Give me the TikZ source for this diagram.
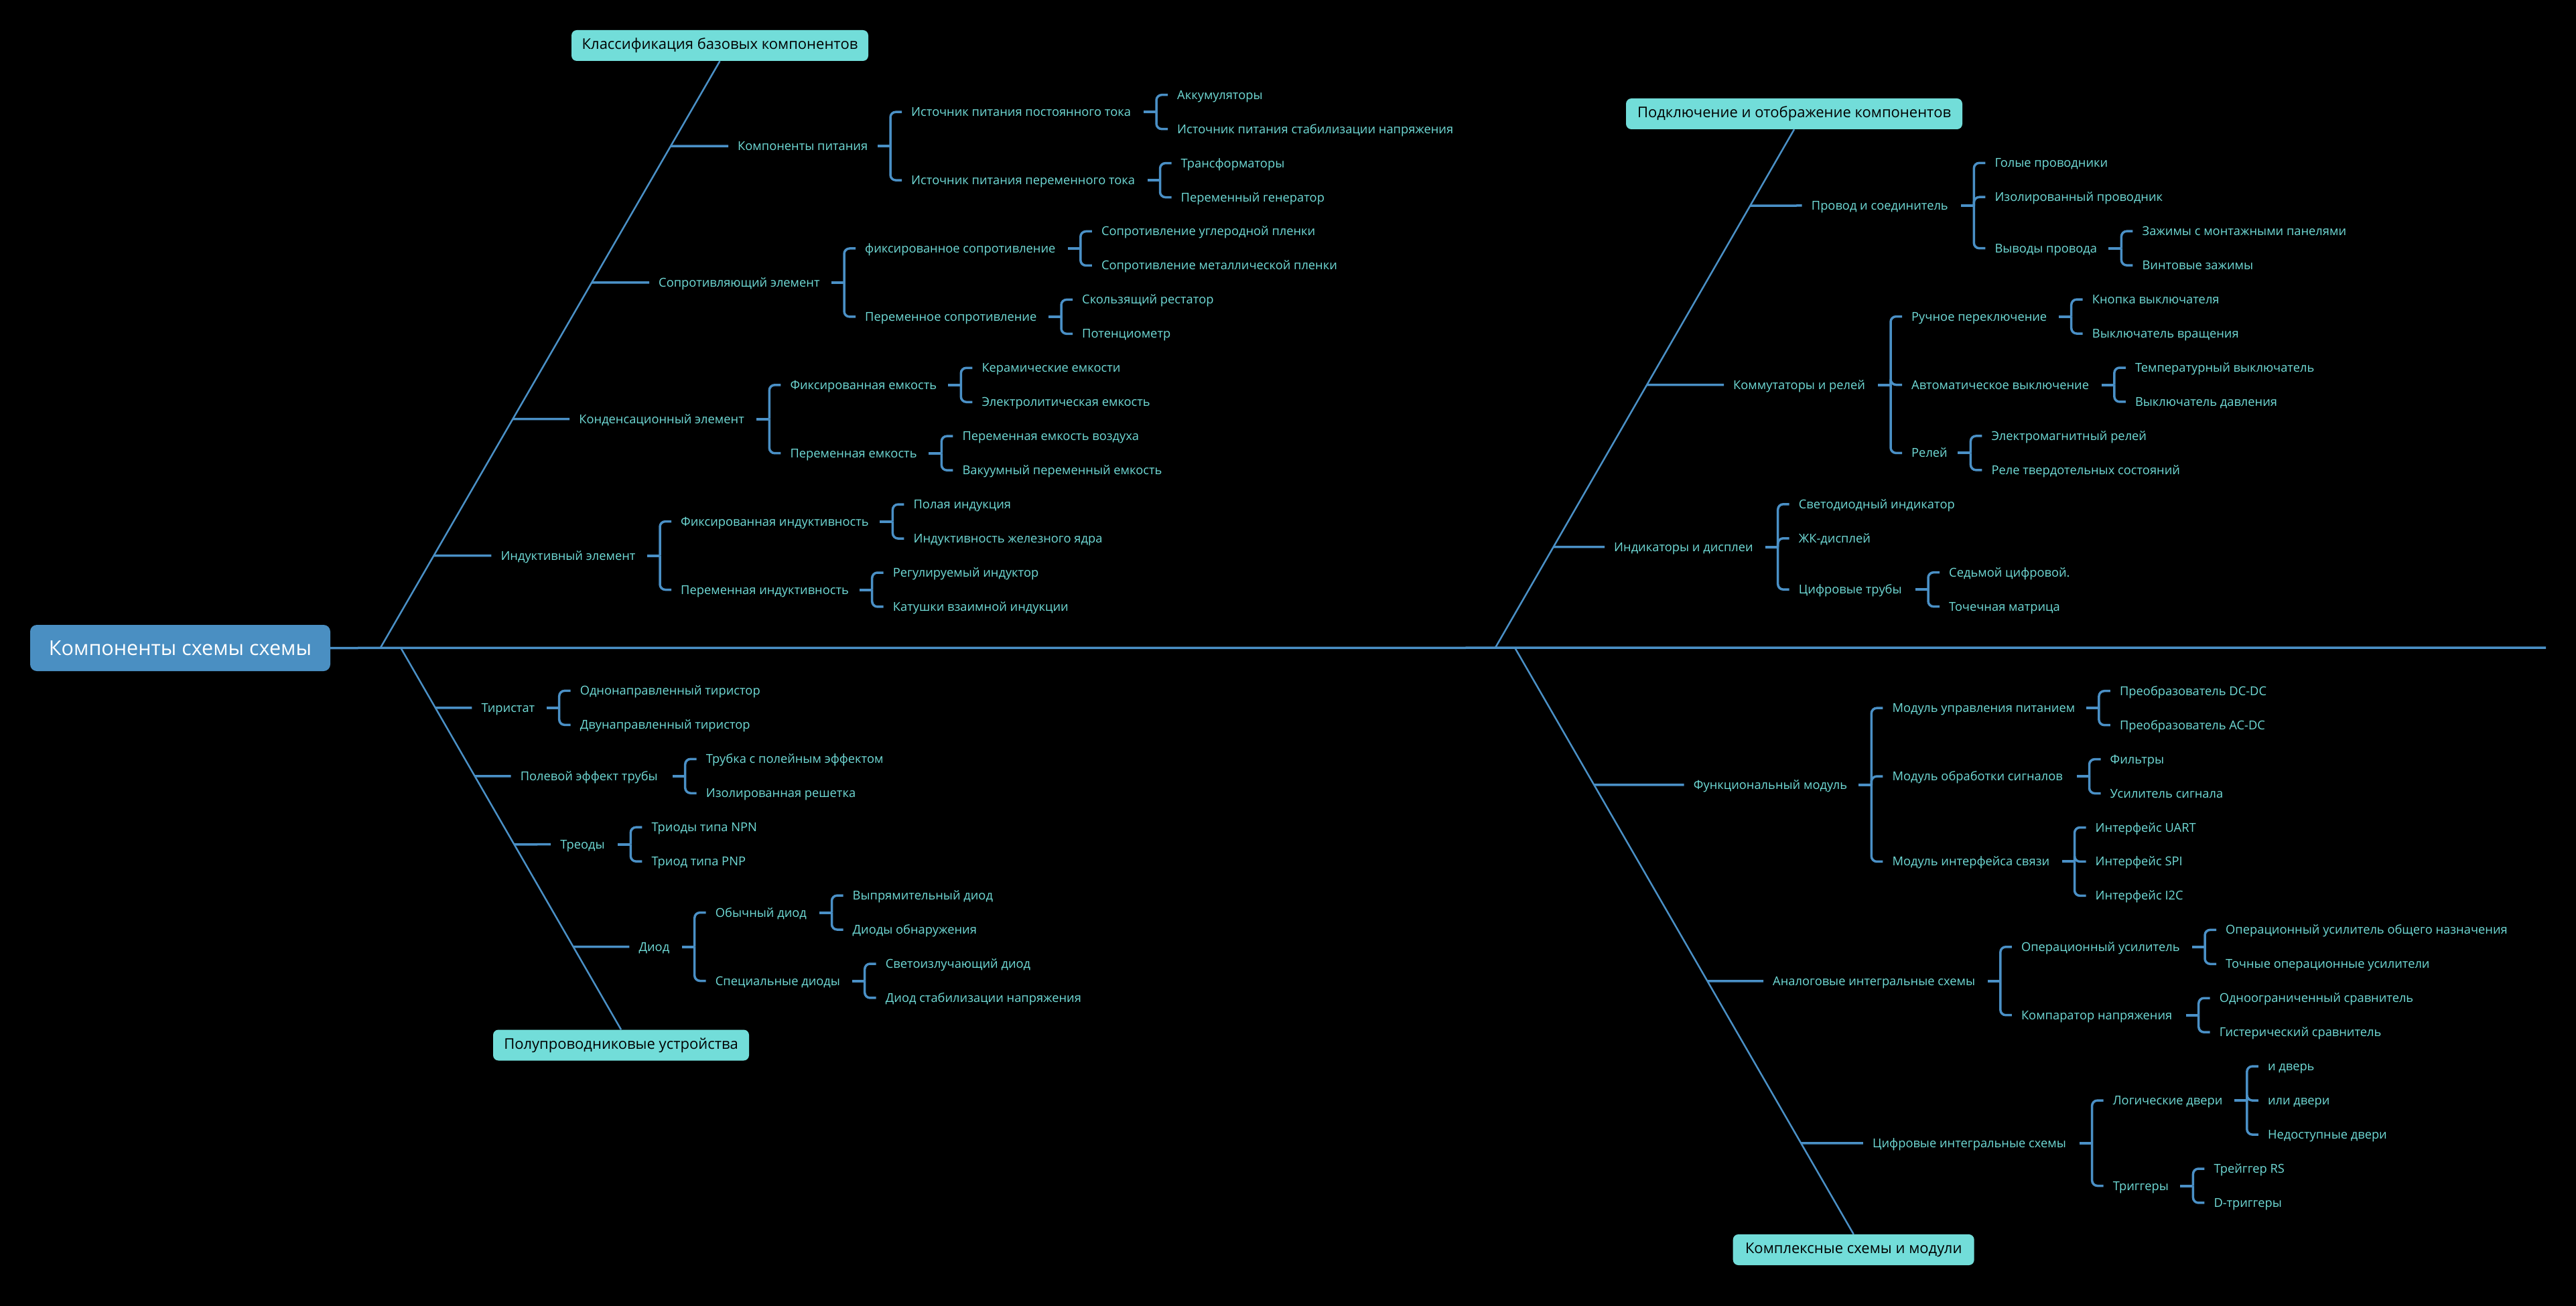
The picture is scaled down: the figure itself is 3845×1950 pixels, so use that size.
\documentclass[tikz,border=0pt]{standalone}
\usepackage{fontspec}
\setmainfont{Open Sans}
\usetikzlibrary{calc}
\definecolor{linec}{RGB}{74,144,198}
\definecolor{lblc}{RGB}{112,220,216}
\definecolor{boxc}{RGB}{114,221,217}
\definecolor{mainc}{RGB}{74,143,194}
\tikzset{
  lbl/.style={anchor=west, inner sep=0pt, text=lblc, font=\fontsize{18.3}{20}\selectfont, text height=13pt, text depth=0pt},
  catbox/.style={fill=boxc, rounded corners=8pt, text=black, font=\fontsize{22}{24}\selectfont, minimum height=46pt, inner sep=0pt},
  mainbox/.style={fill=mainc, rounded corners=10pt, text=white, font=\fontsize{30.5}{34}\selectfont, minimum height=69pt, minimum width=448pt, inner sep=0pt},
  ln/.style={draw=linec, line width=3.5pt},
  stubln/.style={draw=linec, line width=4pt},
  bone/.style={draw=linec, line width=2.5pt},
  spine/.style={draw=linec, line width=3.5pt},
  brk/.style={draw=linec, line width=3.5pt, rounded corners=8pt}
}
\newcommand\fork[3]{%
  \coordinate (#1-j) at ($(#1.west -| #2.west)+(-31,0)$);
  \draw[stubln] ($(#1-j)+(-19,0)$) -- (#1-j);
  \foreach \c in {#3} {\draw[brk] (#1-j) |- ($(\c.west)+(-14,0)$);}
}
\newcommand\stub[3]{% bone start, bone end, node
  \draw[ln] (intersection of #1--#2 and #3.west--#3.east) -- ($(#3.west)+(-14,0)$);
}
\begin{document}
\begin{tikzpicture}[x=1pt,y=-1pt]
\fill[black] (0,0) rectangle (3845,1950);
\useasboundingbox (0,0) rectangle (3845,1950);

% main
\node[mainbox] (main) at (269,967.5) {Компоненты схемы схемы};
\coordinate (spineend) at (3800,967);
\draw[spine] (main.east) -- (spineend);

% category boxes
\node[catbox, minimum width=443pt] (cat1) at (1074.5,68) {Классификация базовых компонентов};
\node[catbox, minimum width=502pt] (cat2) at (2678,170) {Подключение и отображение компонентов};
\node[catbox, minimum width=382pt] (cat3) at (927,1560.5) {Полупроводниковые устройства};
\node[catbox, minimum width=360pt] (cat4) at (2766.7,1866) {Комплексные схемы и модули};

\coordinate (tl0) at (568,967);
\coordinate (tl1) at (1074.5,91);
\coordinate (tr0) at (2232,967);
\coordinate (tr1) at (2678,193);
\coordinate (bl0) at (598,967);
\coordinate (bl1) at (927,1537.5);
\coordinate (br0) at (2261,967);
\coordinate (br1) at (2766.7,1843);
\draw[bone] (tl0) -- (cat1.south);
\draw[bone] (tr0) -- (cat2.south);
\draw[bone] (bl0) -- (cat3.north);
\draw[bone] (br0) -- (cat4.north);

% ---------- top left
\node[lbl] (a) at (1101,218.1) {Компоненты питания};
\node[lbl] (a1) at (1360,167.2) {Источник питания постоянного тока};
\node[lbl] (a2) at (1360,269.1) {Источник питания переменного тока};
\node[lbl] (a11) at (1757,141.7) {Аккумуляторы};
\node[lbl] (a12) at (1757,192.65) {Источник питания стабилизации напряжения};
\node[lbl] (a21) at (1762.5,243.6) {Трансформаторы};
\node[lbl] (a22) at (1762.5,294.55) {Переменный генератор};
\node[lbl] (b) at (983,421.9) {Сопротивляющий элемент};
\node[lbl] (b1) at (1291,371.0) {фиксированное сопротивление};
\node[lbl] (b2) at (1291,472.9) {Переменное сопротивление};
\node[lbl] (b11) at (1643.8,345.5) {Сопротивление углеродной пленки};
\node[lbl] (b12) at (1643.8,396.45) {Сопротивление металлической пленки};
\node[lbl] (b21) at (1615,447.4) {Скользящий рестатор};
\node[lbl] (b22) at (1615,498.35) {Потенциометр};
\node[lbl] (c) at (864.2,625.7) {Конденсационный элемент};
\node[lbl] (c1) at (1179.3,574.8) {Фиксированная емкость};
\node[lbl] (c2) at (1179.3,676.7) {Переменная емкость};
\node[lbl] (c11) at (1465.3,549.3) {Керамические емкости};
\node[lbl] (c12) at (1465.3,600.25) {Электролитическая емкость};
\node[lbl] (c21) at (1436.3,651.2) {Переменная емкость воздуха};
\node[lbl] (c22) at (1436.3,702.15) {Вакуумный переменный емкость};
\node[lbl] (d) at (747.3,829.5) {Индуктивный элемент};
\node[lbl] (d1) at (1016,778.6) {Фиксированная индуктивность};
\node[lbl] (d2) at (1016,880.5) {Переменная индуктивность};
\node[lbl] (d11) at (1363.4,753.1) {Полая индукция};
\node[lbl] (d12) at (1363.4,804.05) {Индуктивность железного ядра};
\node[lbl] (d21) at (1332.7,855.0) {Регулируемый индуктор};
\node[lbl] (d22) at (1332.7,905.95) {Катушки взаимной индукции};

\stub{tl0}{tl1}{a} \stub{tl0}{tl1}{b} \stub{tl0}{tl1}{c} \stub{tl0}{tl1}{d}
\fork{a}{a1}{a1,a2} \fork{a1}{a11}{a11,a12} \fork{a2}{a21}{a21,a22}
\fork{b}{b1}{b1,b2} \fork{b1}{b11}{b11,b12} \fork{b2}{b21}{b21,b22}
\fork{c}{c1}{c1,c2} \fork{c1}{c11}{c11,c12} \fork{c2}{c21}{c21,c22}
\fork{d}{d1}{d1,d2} \fork{d1}{d11}{d11,d12} \fork{d2}{d21}{d21,d22}

% ---------- top right
\node[lbl] (e) at (2703.7,307) {Провод и соединитель};
\node[lbl] (e1) at (2977.3,243.3) {Голые проводники};
\node[lbl] (e2) at (2977.3,294.25) {Изолированный проводник};
\node[lbl] (e3) at (2977.3,370.7) {Выводы провода};
\node[lbl] (e31) at (3197.4,345.2) {Зажимы с монтажными панелями};
\node[lbl] (e32) at (3197.4,396.15) {Винтовые зажимы};
\node[lbl] (f) at (2587,574.5) {Коммутаторы и релей};
\node[lbl] (f1) at (2853,472.6) {Ручное переключение};
\node[lbl] (f2) at (2853,574.5) {Автоматическое выключение};
\node[lbl] (f3) at (2853,676.4) {Релей};
\node[lbl] (f11) at (3122.7,447.1) {Кнопка выключателя};
\node[lbl] (f12) at (3122.7,498.05) {Выключатель вращения};
\node[lbl] (f21) at (3186.8,549.0) {Температурный выключатель};
\node[lbl] (f22) at (3186.8,599.95) {Выключатель давления};
\node[lbl] (f31) at (2972.4,650.9) {Электромагнитный релей};
\node[lbl] (f32) at (2972.4,701.85) {Реле твердотельных состояний};
\node[lbl] (g) at (2409,816.5) {Индикаторы и дисплеи};
\node[lbl] (g1) at (2684.7,752.8) {Светодиодный индикатор};
\node[lbl] (g2) at (2684.7,803.75) {ЖК-дисплей};
\node[lbl] (g3) at (2684.7,880.2) {Цифровые трубы};
\node[lbl] (g31) at (2909,854.7) {Седьмой цифровой.};
\node[lbl] (g32) at (2909,905.65) {Точечная матрица};

\stub{tr0}{tr1}{e} \stub{tr0}{tr1}{f} \stub{tr0}{tr1}{g}
\fork{e}{e1}{e1,e2,e3} \fork{e3}{e31}{e31,e32}
\fork{f}{f1}{f1,f2,f3} \fork{f1}{f11}{f11,f12} \fork{f2}{f21}{f21,f22} \fork{f3}{f31}{f31,f32}
\fork{g}{g1}{g1,g2,g3} \fork{g3}{g31}{g31,g32}

% ---------- bottom left
\node[lbl] (h) at (718.4,1056.9) {Тиристат};
\node[lbl] (h1) at (865.7,1031.4) {Однонаправленный тиристор};
\node[lbl] (h2) at (865.7,1082.35) {Двунаправленный тиристор};
\node[lbl] (i) at (776.6,1158.8) {Полевой эффект трубы};
\node[lbl] (i1) at (1053.7,1133.3) {Трубка с полейным эффектом};
\node[lbl] (i2) at (1053.7,1184.25) {Изолированная решетка};
\node[lbl] (k) at (836.2,1260.7) {Треоды};
\node[lbl] (k1) at (972.3,1235.2) {Триоды типа NPN};
\node[lbl] (k2) at (972.3,1286.15) {Триод типа PNP};
\node[lbl] (l) at (953.4,1413.5) {Диод};
\node[lbl] (l1) at (1067.7,1362.6) {Обычный диод};
\node[lbl] (l2) at (1067.7,1464.5) {Специальные диоды};
\node[lbl] (l11) at (1272.5,1337.1) {Выпрямительный диод};
\node[lbl] (l12) at (1272.5,1388.05) {Диоды обнаружения};
\node[lbl] (l21) at (1321.7,1439.0) {Светоизлучающий диод};
\node[lbl] (l22) at (1321.7,1489.95) {Диод стабилизации напряжения};

\stub{bl0}{bl1}{h} \stub{bl0}{bl1}{i} \stub{bl0}{bl1}{k} \stub{bl0}{bl1}{l}
\fork{h}{h1}{h1,h2} \fork{i}{i1}{i1,i2} \fork{k}{k1}{k1,k2}
\fork{l}{l1}{l1,l2} \fork{l1}{l11}{l11,l12} \fork{l2}{l21}{l21,l22}

% ---------- bottom right
\node[lbl] (m) at (2527.7,1171.8) {Функциональный модуль};
\node[lbl] (m1) at (2824.3,1057.2) {Модуль управления питанием};
\node[lbl] (m2) at (2824.3,1159.1) {Модуль обработки сигналов};
\node[lbl] (m3) at (2824.3,1286.45) {Модуль интерфейса связи};
\node[lbl] (m11) at (3163.9,1031.7) {Преобразователь DC-DC};
\node[lbl] (m12) at (3163.9,1082.65) {Преобразователь AC-DC};
\node[lbl] (m21) at (3149.5,1133.6) {Фильтры};
\node[lbl] (m22) at (3149.5,1184.55) {Усилитель сигнала};
\node[lbl] (m31) at (3127.5,1235.5) {Интерфейс UART};
\node[lbl] (m32) at (3127.5,1286.45) {Интерфейс SPI};
\node[lbl] (m33) at (3127.5,1337.4) {Интерфейс I2C};
\node[lbl] (n) at (2646,1464.8) {Аналоговые интегральные схемы};
\node[lbl] (n1) at (3016.8,1413.8) {Операционный усилитель};
\node[lbl] (n2) at (3016.8,1515.7) {Компаратор напряжения};
\node[lbl] (n11) at (3322,1388.35) {Операционный усилитель общего назначения};
\node[lbl] (n12) at (3322,1439.3) {Точные операционные усилители};
\node[lbl] (n21) at (3312.7,1490.25) {Одноограниченный сравнитель};
\node[lbl] (n22) at (3312.7,1541.2) {Гистерический сравнитель};
\node[lbl] (o) at (2794.9,1706.8) {Цифровые интегральные схемы};
\node[lbl] (o1) at (3153.6,1643.1) {Логические двери};
\node[lbl] (o2) at (3153.6,1770.5) {Триггеры};
\node[lbl] (o11) at (3384.8,1592.15) {и дверь};
\node[lbl] (o12) at (3384.8,1643.1) {или двери};
\node[lbl] (o13) at (3384.8,1694.05) {Недоступные двери};
\node[lbl] (o21) at (3304.4,1745.0) {Трейггер RS};
\node[lbl] (o22) at (3304.4,1795.95) {D-триггеры};

\stub{br0}{br1}{m} \stub{br0}{br1}{n} \stub{br0}{br1}{o}
\fork{m}{m1}{m1,m2,m3} \fork{m1}{m11}{m11,m12} \fork{m2}{m21}{m21,m22} \fork{m3}{m31}{m31,m32,m33}
\fork{n}{n1}{n1,n2} \fork{n1}{n11}{n11,n12} \fork{n2}{n21}{n21,n22}
\fork{o}{o1}{o1,o2} \fork{o1}{o11}{o11,o12,o13} \fork{o2}{o21}{o21,o22}
\end{tikzpicture}
\end{document}
